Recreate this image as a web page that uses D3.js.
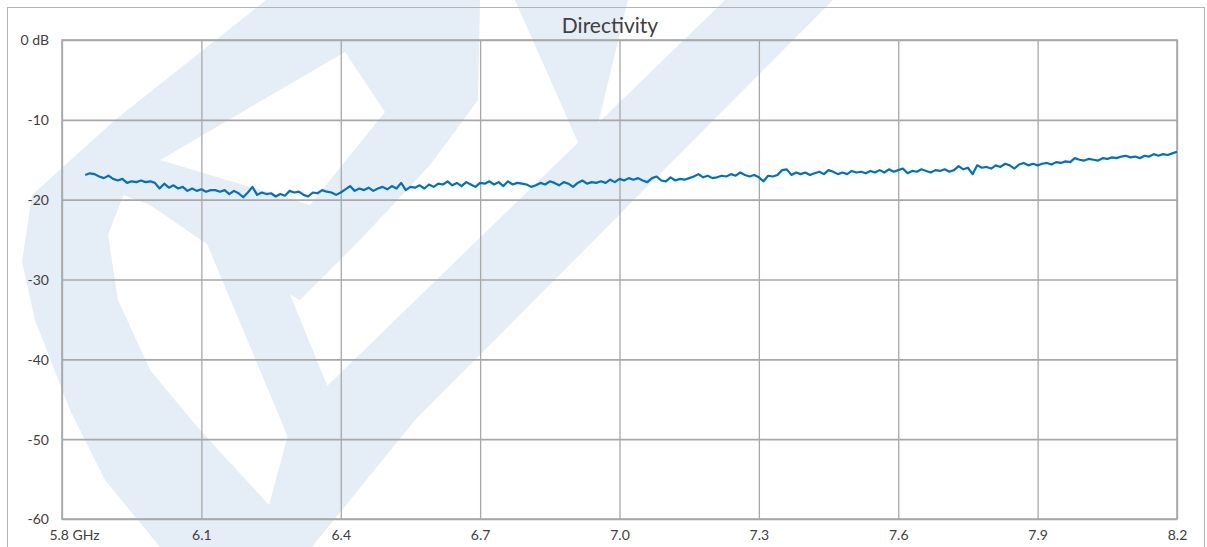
<!DOCTYPE html>
<html>
<head>
<meta charset="utf-8">
<script src="https://cdn.jsdelivr.net/npm/d3@7"></script>
<style>
  html, body { margin: 0; padding: 0; background: #fff; }
  svg { display: block; }
  text { font-family: Lato, "Open Sans", sans-serif; fill: #404040; }
</style>
</head>
<body>
<svg id="chart" width="1207" height="547"></svg>
<script>
// ---- data ----
const title = "Directivity";
const xTickValues = [5.8, 6.1, 6.4, 6.7, 7.0, 7.3, 7.6, 7.9, 8.2];
const xTickLabels = ["5.8 GHz", "6.1", "6.4", "6.7", "7.0", "7.3", "7.6", "7.9", "8.2"];
const yTickValues = [0, -10, -20, -30, -40, -50, -60];
const yTickLabels = ["0 dB", "-10", "-20", "-30", "-40", "-50", "-60"];
const freqStartGHz = 5.85;   // measurement grid start
const freqStepGHz = 0.01;    // measurement grid step
const directivityDb = [
  -16.9, -16.7, -16.8, -17.1, -17.3, -17.0, -17.4, -17.6, -17.4, -17.9,
  -17.7, -17.8, -17.6, -17.8, -17.7, -17.9, -18.6, -18.0, -18.5, -18.2,
  -18.6, -18.4, -18.9, -18.6, -18.9, -18.7, -19.0, -18.8, -18.8, -19.0,
  -18.8, -19.3, -18.9, -19.2, -19.7, -19.1, -18.4, -19.4, -19.1, -19.3,
  -19.2, -19.6, -19.3, -19.5, -18.9, -19.1, -19.0, -19.4, -19.6, -19.1,
  -19.2, -18.8, -19.0, -19.1, -19.4, -19.1, -18.7, -18.3, -18.9, -18.6,
  -18.8, -18.5, -18.9, -18.6, -18.4, -18.7, -18.3, -18.6, -17.9, -18.8,
  -18.4, -18.5, -18.2, -18.6, -18.1, -18.4, -18.0, -18.1, -17.7, -18.2,
  -17.9, -18.3, -17.8, -18.1, -18.4, -17.9, -18.0, -17.7, -18.1, -17.8,
  -18.3, -17.7, -18.1, -17.9, -18.0, -18.1, -18.4, -18.2, -17.9, -18.1,
  -17.7, -17.9, -18.2, -17.8, -18.0, -18.4, -17.9, -17.6, -18.0, -17.8,
  -17.9, -17.7, -17.9, -17.5, -17.8, -17.4, -17.6, -17.3, -17.5, -17.3,
  -17.6, -17.8, -17.3, -17.1, -17.6, -17.7, -17.2, -17.6, -17.4, -17.5,
  -17.3, -17.1, -16.8, -17.2, -17.0, -17.3, -17.2, -17.0, -17.1, -16.8,
  -17.0, -16.6, -16.9, -17.1, -16.9, -17.2, -17.7, -17.0, -17.1, -16.9,
  -16.3, -16.2, -16.9, -16.6, -16.8, -16.6, -16.9, -16.7, -16.5, -16.8,
  -16.3, -16.5, -16.8, -16.6, -16.8, -16.4, -16.6, -16.5, -16.7, -16.4,
  -16.6, -16.3, -16.6, -16.2, -16.5, -16.3, -16.1, -16.7, -16.4, -16.5,
  -16.2, -16.4, -16.6, -16.3, -16.4, -16.2, -16.5, -16.3, -15.8, -16.2,
  -16.0, -16.8, -15.7, -16.0, -15.9, -16.1, -15.7, -15.9, -15.5, -15.7,
  -16.1, -15.6, -15.4, -15.7, -15.5, -15.7, -15.5, -15.4, -15.6, -15.3,
  -15.4, -15.2, -15.3, -14.8, -15.0, -15.1, -14.9, -15.0, -15.1, -14.8,
  -14.9, -14.7, -14.8, -14.6, -14.5, -14.7, -14.6, -14.8, -14.5, -14.6,
  -14.3, -14.5, -14.3, -14.4, -14.2, -14.0
];

// watermark outline (page pixels)
const wmLeft = [[266,0],[343,0],[192,120],[130,178],[108,235],[118,300],[150,370],[200,430],[269,505],[300,547],[160,547],[105,480],[70,410],[35,320],[22,262],[32,195],[115,120]];
const wmBowlOuter = [[330,0],[480,0],[478,100],[430,165],[360,240],[300,300],[230,260],[150,205],[110,190],[192,120]];
const wmBowlHole = [[160,160],[345,52],[385,112],[310,205]];
const wmStem = [[195,215],[262,225],[345,430],[300,470],[285,430]];
const wmBand = [[725,0],[833,0],[415,420],[312,547],[240,547],[269,505],[292,420]];
const wmBlade = [[515,0],[628,0],[588,165]];

// ---- layout ----
const svg = d3.select("#chart");
const W = 1207, H = 547;
const plot = { left: 62, right: 1177, top: 40, bottom: 519 };

const x = d3.scaleLinear().domain([5.8, 8.2]).range([plot.left, plot.right]);
const y = d3.scaleLinear().domain([-60, 0]).range([plot.bottom, plot.top]);

svg.append("rect").attr("width", W).attr("height", H).attr("fill", "#fff");

// watermark
const wm = svg.append("g").attr("fill", "#e5edf6");
const poly = pts => "M" + pts.map(p => p.join(",")).join("L") + "Z";
wm.append("path").attr("d", poly(wmLeft));
wm.append("path").attr("d", poly(wmBowlOuter) + poly(wmBowlHole)).attr("fill-rule", "evenodd");
wm.append("path").attr("d", poly(wmStem));
wm.append("path").attr("d", poly(wmBand));
wm.append("path").attr("d", poly(wmBlade));

// outer chart border
svg.append("rect")
  .attr("x", 7.5).attr("y", 7.5).attr("width", 1197).attr("height", 570)
  .attr("fill", "none").attr("stroke", "#b4b4b4").attr("stroke-width", 1);

// gridlines via axes
const gx = svg.append("g")
  .attr("transform", `translate(0,${plot.bottom})`)
  .call(d3.axisBottom(x).tickValues(xTickValues)
    .tickSize(-(plot.bottom - plot.top))
    .tickFormat((d, i) => xTickLabels[i]));
gx.select(".domain").remove();
gx.selectAll(".tick line").attr("stroke", "#a8a8a8").attr("stroke-width", 1.3);
gx.selectAll(".tick text")
  .attr("y", 11).attr("dy", "0.71em")
  .style("font-size", "14px").attr("fill", "#404040");
gx.selectAll(".tick text").filter((d, i) => i === 0).attr("dx", 12);

const gy = svg.append("g")
  .attr("transform", `translate(${plot.left},0)`)
  .call(d3.axisLeft(y).tickValues(yTickValues)
    .tickSize(-(plot.right - plot.left))
    .tickFormat((d, i) => yTickLabels[i]));
gy.select(".domain").remove();
gy.selectAll(".tick line").attr("stroke", "#a8a8a8").attr("stroke-width", 1.6);
gy.selectAll(".tick text")
  .attr("x", -13).attr("dy", "0.35em")
  .style("font-size", "14px").attr("fill", "#404040");

// plot border
svg.append("rect")
  .attr("x", plot.left).attr("y", plot.top)
  .attr("width", plot.right - plot.left).attr("height", plot.bottom - plot.top)
  .attr("fill", "none").attr("stroke", "#a8a8a8").attr("stroke-width", 1.6);

// line
const data = directivityDb.map((v, i) => ({ f: freqStartGHz + i * freqStepGHz, v }));
svg.append("path")
  .datum(data)
  .attr("fill", "none")
  .attr("stroke", "#0070c0")
  .attr("stroke-width", 2.2)
  .attr("stroke-linejoin", "round")
  .attr("d", d3.line().x(d => x(d.f)).y(d => y(d.v)));

// title
svg.append("text")
  .attr("x", 610).attr("y", 33)
  .attr("text-anchor", "middle")
  .style("font-size", "21px")
  .attr("fill", "#262626")
  .text(title);
</script>
</body>
</html>
